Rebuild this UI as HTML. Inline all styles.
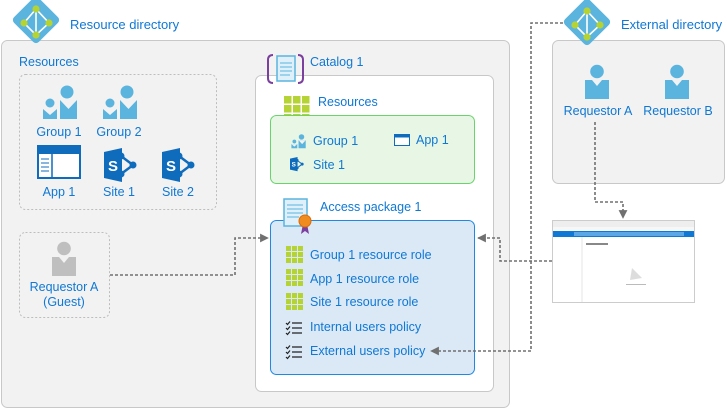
<!DOCTYPE html>
<html><head><meta charset="utf-8"><style>
html,body{margin:0;padding:0;background:#fff;}
svg{display:block;}
text{font-family:"Liberation Sans",sans-serif;fill:#0f78d4;font-size:12.5px;}
</style></head><body>
<svg width="727" height="410" viewBox="0 0 727 410" xmlns="http://www.w3.org/2000/svg">
<defs>
  <g id="dia">
    <rect x="-17.5" y="-17.5" width="35" height="35" rx="4" fill="#5ab4de" transform="rotate(45)"/>
    <path d="M0,-11 L-12,3 L0,15 L13,3 Z M0,-11 L0,15" stroke="#fff" stroke-width="1.6" fill="none"/>
    <circle cx="0" cy="-11" r="3.6" fill="#b5d334"/><circle cx="-12" cy="3" r="3.6" fill="#b5d334"/>
    <circle cx="13" cy="3" r="3.6" fill="#b5d334"/><circle cx="0" cy="15" r="3.6" fill="#b5d334"/>
  </g>
  <g id="grp">
    <circle cx="25" cy="7" r="6.5" fill="#5ab4de"/>
    <path d="M18,15 L26,15 L26.5,22 L27,15 L35,15 L35,34 L18,34 Z" fill="#5ab4de"/>
    <path d="M18,15 L35,15 L26.5,24 Z" fill="#f2f2f2"/>
    <circle cx="8" cy="18" r="4.5" fill="#5ab4de"/>
    <path d="M1,24 L15,24 L15,34 L1,34 Z" fill="#5ab4de"/>
    <path d="M1,24 L15,24 L8,30 Z" fill="#f2f2f2"/>
  </g>
  <g id="person">
    <circle cx="12" cy="6.5" r="6.8"/>
    <path d="M0,15 L7,15 L12,21 L17,15 L24,15 L24,34 L0,34 Z"/>
  </g>
  <g id="sp">
    <path d="M17,8 L29,17 L17,26" stroke="#0f6cbd" stroke-width="2.5" fill="none"/>
    <circle cx="17" cy="8" r="3.5" fill="#0f6cbd"/><circle cx="29" cy="17" r="3.5" fill="#0f6cbd"/><circle cx="17" cy="26" r="3.5" fill="#0f6cbd"/>
    <path d="M0,4 L18,0 L18,34 L0,30 Z" fill="#0f6cbd"/>
    <text x="4" y="23" style="fill:#fff;font-weight:bold;font-size:15px">S</text>
  </g>
  <g id="grid">
    <rect x="0" y="0" width="5" height="5"/><rect x="6" y="0" width="5" height="5"/><rect x="12" y="0" width="5" height="5"/>
    <rect x="0" y="6" width="5" height="5"/><rect x="6" y="6" width="5" height="5"/><rect x="12" y="6" width="5" height="5"/>
    <rect x="0" y="12" width="5" height="5"/><rect x="6" y="12" width="5" height="5"/><rect x="12" y="12" width="5" height="5"/>
  </g>
  <g id="list" stroke="#222" stroke-width="1.2" fill="none">
    <path d="M0,2 L1.5,3.5 L4,0.5 M6,2 H16 M0,7 L1.5,8.5 L4,5.5 M6,7 H16 M0,12 L1.5,13.5 L4,10.5 M6,12 H16"/>
  </g>
  <marker id="ah" viewBox="0 0 10 10" refX="9" refY="5" markerWidth="5.5" markerHeight="5.5" orient="auto"><path d="M0,0 L10,5 L0,10 Z" fill="#707070"/></marker>
</defs>

<rect x="1.5" y="40.5" width="508" height="367" rx="6" fill="#f2f2f2" stroke="#c8c8c8"/>
<use href="#dia" x="36" y="20"/>
<text x="70" y="29" style="font-size:13px">Resource directory</text>
<text x="19" y="66">Resources</text>
<rect x="19.5" y="74.5" width="197" height="135" rx="6" fill="none" stroke="#bdbdbd" stroke-dasharray="2,2"/>
<use href="#grp" x="42" y="85"/>
<use href="#grp" x="102" y="85"/>
<text x="59" y="136" text-anchor="middle">Group 1</text>
<text x="119" y="136" text-anchor="middle">Group 2</text>
<g>
  <rect x="38" y="146" width="42" height="32" fill="#fff" stroke="#0f6cbd" stroke-width="2"/>
  <rect x="38" y="146" width="42" height="8" fill="#0f6cbd"/>
  <line x1="52" y1="154" x2="52" y2="178" stroke="#0f6cbd" stroke-width="1.5"/>
  <path d="M41,159 H49 M41,163 H49 M41,167 H49 M41,171 H49" stroke="#0f6cbd"/>
</g>
<text x="59" y="196" text-anchor="middle">App 1</text>
<use href="#sp" x="104" y="148"/>
<use href="#sp" x="162" y="148"/>
<text x="119" y="196" text-anchor="middle">Site 1</text>
<text x="178" y="196" text-anchor="middle">Site 2</text>

<rect x="19.5" y="232.5" width="90" height="85" rx="6" fill="none" stroke="#bdbdbd" stroke-dasharray="2,2"/>
<use href="#person" x="52" y="242" fill="#bfbfbf"/>
<text x="64" y="291" text-anchor="middle">Requestor A</text>
<text x="64" y="306" text-anchor="middle">(Guest)</text>

<rect x="255.5" y="75.5" width="238" height="316" rx="6" fill="#fff" stroke="#c8c8c8"/>
<g>
  <path d="M273,55 Q268,55 268,60 V78 Q268,83 273,83 M298,55 Q303,55 303,60 V78 Q303,83 298,83" stroke="#7b3f9e" stroke-width="2" fill="none"/>
  <rect x="277" y="56" width="18" height="25" fill="#dff0fa" stroke="#5ab4de" stroke-width="1.5"/>
  <path d="M280,63 H292 M280,67 H292 M280,71 H292 M280,75 H290" stroke="#5ab4de"/>
</g>
<text x="310" y="66">Catalog 1</text>
<g fill="#b5d334"><use href="#grid" x="0" y="0" transform="translate(284,96) scale(1.5)"/></g>
<text x="318" y="106">Resources</text>
<rect x="270.5" y="115.5" width="204" height="68" rx="6" fill="#e7f6e5" stroke="#6ad46a"/>
<g transform="translate(291,134) scale(0.42)"><use href="#grp"/></g>
<text x="313" y="145">Group 1</text>
<rect x="394.5" y="134.5" width="15" height="11" fill="#fff" stroke="#0f6cbd"/>
<rect x="394.5" y="134.5" width="15" height="3" fill="#0f6cbd"/>
<text x="416" y="144">App 1</text>
<g transform="translate(290,157) scale(0.42)"><use href="#sp"/></g>
<text x="313" y="169">Site 1</text>

<rect x="270.5" y="220.5" width="204" height="154" rx="6" fill="#dbe9f7" stroke="#1e88e5"/>
<g>
  <rect x="284" y="199" width="23" height="27" fill="#dff0fa" stroke="#5ab4de" stroke-width="1.5"/>
  <path d="M287,205 H303 M287,209 H303 M287,213 H303 M287,217 H299" stroke="#5ab4de"/>
  <path d="M303,224 L301,234 L305,231 L309,234 L307,224 Z" fill="#7b3f9e"/>
  <circle cx="305" cy="221" r="6" fill="#f08b1f" stroke="#e06a00"/>
</g>
<text x="320" y="211">Access package 1</text>
<g fill="#b5d334">
  <use href="#grid" x="286" y="246"/>
  <use href="#grid" x="286" y="269"/>
  <use href="#grid" x="286" y="293"/>
</g>
<text x="310" y="259">Group 1 resource role</text>
<text x="310" y="283">App 1 resource role</text>
<text x="310" y="306">Site 1 resource role</text>
<use href="#list" x="286" y="321"/>
<use href="#list" x="286" y="345"/>
<text x="310" y="331">Internal users policy</text>
<text x="310" y="355">External users policy</text>

<rect x="552.5" y="40.5" width="172" height="143" rx="6" fill="#f2f2f2" stroke="#c8c8c8"/>
<use href="#dia" x="587" y="22"/>
<text x="621" y="29" style="font-size:13px">External directory</text>
<use href="#person" x="585" y="65" fill="#5ab4de"/>
<use href="#person" x="665" y="65" fill="#5ab4de"/>
<text x="598" y="115" text-anchor="middle">Requestor A</text>
<text x="678" y="115" text-anchor="middle">Requestor B</text>

<g>
  <rect x="552.5" y="220.5" width="142" height="82" fill="#fff" stroke="#ccc"/>
  <rect x="553" y="221" width="141" height="6" fill="#eee"/>
  <rect x="553" y="227" width="141" height="4" fill="#f7f7f7"/>
  <rect x="553" y="231" width="141" height="6" fill="#0f78d4"/>
  <rect x="574" y="232" width="110" height="4" fill="#5aa7e8"/>
  <line x1="582" y1="237" x2="582" y2="302" stroke="#e5e5e5"/>
  <rect x="586" y="243" width="22" height="2" fill="#888"/>
  <path d="M632,268 L642,278 L630,280 Z" fill="#ddd"/>
  <rect x="626" y="284" width="20" height="1" fill="#bbb"/>
</g>

<g stroke="#707070" stroke-width="1.6" stroke-dasharray="3,2" fill="none">
  <path d="M110,275 H235 V238 H268" marker-end="url(#ah)"/>
  <path d="M595,122 V202 H623 V218" marker-end="url(#ah)"/>
  <path d="M552,261 H500 V238 H478" marker-end="url(#ah)"/>
  <path d="M563,23 H531 V351 H431" marker-end="url(#ah)"/>
</g>
</svg>
</body></html>
